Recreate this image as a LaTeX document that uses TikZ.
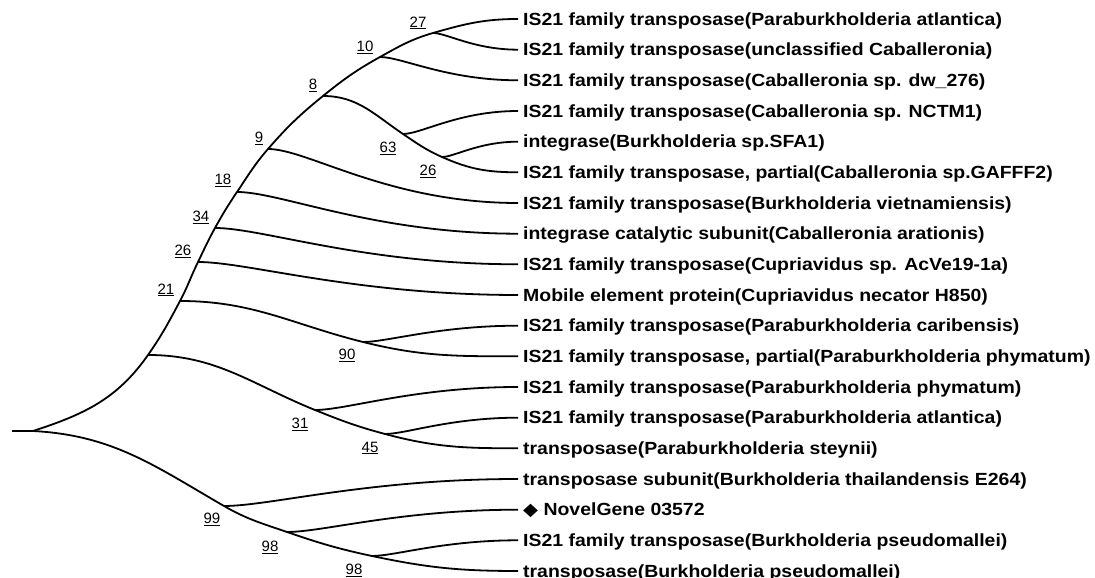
\documentclass[tikz,border=0pt]{standalone}
\usepackage{fontspec}
\usepackage{graphicx}
\setmainfont{Liberation Sans}
\newfontfamily\symfont{DejaVu Sans}
\usetikzlibrary{calc}
\newcommand{\taxon}[1]{\scalebox{1.105}[1]{#1}}
\newcommand{\boot}[1]{\underline{#1}}
\begin{document}
\begin{tikzpicture}[x=1pt,y=1pt,
  edge/.style={line width=1.8pt},
  side/.style={out=0, in=180, out looseness=0.4, in looseness=1.3},
  leaf/.style={anchor=west, inner xsep=5pt, inner ysep=0pt,
    text height=12.6pt, text depth=0pt,
    font=\fontsize{17.6}{20}\selectfont\bfseries},
  bs/.style={inner sep=0pt, font=\fontsize{15}{16}\selectfont}]
\fill[white] (0,0) rectangle (1095,578);
\useasboundingbox (0,0) rectangle (1095,578);

% root and internal nodes
\coordinate (r0) at (12,147);
\coordinate (R) at (33,147);
\coordinate (A) at (148,223);
\coordinate (n21) at (180,277);
\coordinate (n26) at (198,316);
\coordinate (n34) at (215,350);
\coordinate (n18) at (237,386);
\coordinate (n9) at (268,429);
\coordinate (n8) at (323,482);
\coordinate (n10) at (380,521);
\coordinate (n27) at (433,545);
\coordinate (n63) at (403,444);
\coordinate (n26u) at (442,421);
\coordinate (n90) at (363,236);
\coordinate (n31) at (315,168);
\coordinate (n45) at (385,144);
\coordinate (n99) at (224,72);
\coordinate (n98) at (287,46);
\coordinate (n98b) at (372,22);

% taxa
\node[leaf] (t1) at (518,559) {\taxon{IS21 family transposase(Paraburkholderia atlantica)}};
\node[leaf] (t2) at (518,528.3) {\taxon{IS21 family transposase(unclassified Caballeronia)}};
\node[leaf] (t3) at (518,497.7) {\taxon{IS21 family transposase(Caballeronia sp. dw\_276)}};
\node[leaf] (t4) at (518,467) {\taxon{IS21 family transposase(Caballeronia sp. NCTM1)}};
\node[leaf] (t5) at (518,436.3) {\taxon{integrase(Burkholderia sp.SFA1)}};
\node[leaf] (t6) at (518,405.7) {\taxon{IS21 family transposase, partial(Caballeronia sp.GAFFF2)}};
\node[leaf] (t7) at (518,375) {\taxon{IS21 family transposase(Burkholderia vietnamiensis)}};
\node[leaf] (t8) at (518,344.3) {\taxon{integrase catalytic subunit(Caballeronia arationis)}};
\node[leaf] (t9) at (518,313.7) {\taxon{IS21 family transposase(Cupriavidus sp. AcVe19-1a)}};
\node[leaf] (t10) at (518,283) {\taxon{Mobile element protein(Cupriavidus necator H850)}};
\node[leaf] (t11) at (518,252.3) {\taxon{IS21 family transposase(Paraburkholderia caribensis)}};
\node[leaf] (t12) at (518,221.7) {\taxon{IS21 family transposase, partial(Paraburkholderia phymatum)}};
\node[leaf] (t13) at (518,191) {\taxon{IS21 family transposase(Paraburkholderia phymatum)}};
\node[leaf] (t14) at (518,160.3) {\taxon{IS21 family transposase(Paraburkholderia atlantica)}};
\node[leaf] (t15) at (518,129.7) {\taxon{transposase(Paraburkholderia steynii)}};
\node[leaf] (t16) at (518,99) {\taxon{transposase subunit(Burkholderia thailandensis E264)}};
\node[leaf] (t17) at (518,68.3) {\taxon{{\symfont ◆} NovelGene 03572}};
\node[leaf] (t18) at (518,37.7) {\taxon{IS21 family transposase(Burkholderia pseudomallei)}};
\node[leaf] (t19) at (518,7) {\taxon{transposase(Burkholderia pseudomallei)}};

% branches
\begin{scope}[edge]
\draw (r0) -- (R);
% upper backbone
\draw (R) to[out=18,in=235] (A) to[out=55,in=242] (n21)
  to[out=62,in=244] (n26) to[out=64,in=241] (n34)
  to[out=61,in=236] (n18) to[out=56,in=229] (n9)
  to[out=49,in=219] (n8) to[out=39,in=209] (n10)
  to[out=29,in=196] (n27) to[out=16,in=180] (t1.west);
% lower backbone
\draw (R) to[out=-3,in=150] (n99) to[out=-30,in=161] (n98)
  to[out=-19,in=168] (n98b) to[out=-12,in=180] (t19.west);
% inner clades
\draw (n8) to[out=0,in=146] (n63) to[out=-34,in=156] (n26u)
  to[out=-24,in=180] (t6.west);
\draw (n21) to[out=0,in=166] (n90) to[out=-14,in=180] (t12.west);
\draw (A) to[out=0,in=158] (n31) to[out=-22,in=165] (n45)
  to[out=-15,in=180] (t15.west);
% side branches
\draw (n27) to[side] (t2.west);
\draw (n10) to[side] (t3.west);
\draw (n63) to[side] (t4.west);
\draw (n26u) to[side] (t5.west);
\draw (n9) to[side] (t7.west);
\draw (n18) to[side] (t8.west);
\draw (n34) to[side] (t9.west);
\draw (n26) to[side] (t10.west);
\draw (n90) to[side] (t11.west);
\draw (n31) to[side] (t13.west);
\draw (n45) to[side] (t14.west);
\draw (n99) to[side] (t16.west);
\draw (n98) to[side] (t17.west);
\draw (n98b) to[side] (t18.west);
\end{scope}

% bootstrap values
\node[bs] (b27) at ([shift={(-15,10)}]n27) {\boot{27}};
\node[bs] (b10) at ([shift={(-15,10)}]n10) {\boot{10}};
\node[bs] (b8) at ([shift={(-10,11)}]n8) {\boot{8}};
\node[bs] (b9) at ([shift={(-9,11)}]n9) {\boot{9}};
\node[bs] (b18) at ([shift={(-14,12)}]n18) {\boot{18}};
\node[bs] (b34) at ([shift={(-14,11)}]n34) {\boot{34}};
\node[bs] (b26) at ([shift={(-15,11)}]n26) {\boot{26}};
\node[bs] (b21) at ([shift={(-14,11)}]n21) {\boot{21}};
\node[bs] (b63) at ([shift={(-15,-14)}]n63) {\boot{63}};
\node[bs] (b26u) at ([shift={(-14,-14)}]n26u) {\boot{26}};
\node[bs] (b90) at ([shift={(-16,-13)}]n90) {\boot{90}};
\node[bs] (b31) at ([shift={(-15,-14)}]n31) {\boot{31}};
\node[bs] (b45) at ([shift={(-15,-14)}]n45) {\boot{45}};
\node[bs] (b99) at ([shift={(-12,-13)}]n99) {\boot{99}};
\node[bs] (b98) at ([shift={(-17,-15)}]n98) {\boot{98}};
\node[bs] (b98b) at ([shift={(-18,-14)}]n98b) {\boot{98}};
\end{tikzpicture}
\end{document}
